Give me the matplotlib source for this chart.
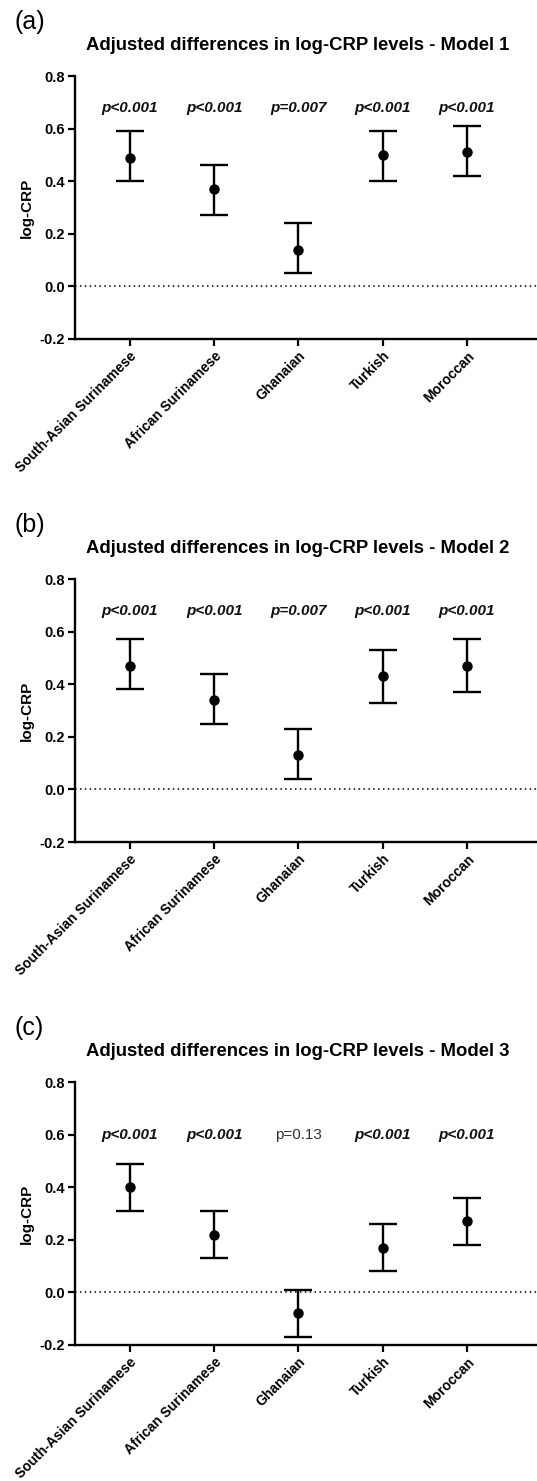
import matplotlib
matplotlib.use("Agg")
import matplotlib.pyplot as plt
import numpy as np

plt.rcParams["font.family"] = ["Liberation Sans", "DejaVu Sans"]
plt.rcParams["axes.unicode_minus"] = False

groups = ["South-Asian Surinamese", "African Surinamese", "Ghanaian", "Turkish", "Moroccan"]

# adjusted differences (estimate, lower CI, upper CI) per model
m1_est = [0.49, 0.37, 0.14, 0.50, 0.51]
m1_lo = [0.40, 0.27, 0.05, 0.40, 0.42]
m1_hi = [0.59, 0.46, 0.24, 0.59, 0.61]
m1_p = ["p<0.001", "p<0.001", "p=0.007", "p<0.001", "p<0.001"]

m2_est = [0.47, 0.34, 0.13, 0.43, 0.47]
m2_lo = [0.38, 0.25, 0.04, 0.33, 0.37]
m2_hi = [0.57, 0.44, 0.23, 0.53, 0.57]
m2_p = ["p<0.001", "p<0.001", "p=0.007", "p<0.001", "p<0.001"]

m3_est = [0.40, 0.22, -0.08, 0.17, 0.27]
m3_lo = [0.31, 0.13, -0.17, 0.08, 0.18]
m3_hi = [0.49, 0.31, 0.01, 0.26, 0.36]
m3_p = ["p<0.001", "p<0.001", "p=0.13", "p<0.001", "p<0.001"]
m3_sig = [True, True, False, True, True]

yticks = [-0.2, 0.0, 0.2, 0.4, 0.6, 0.8]
ytick_labels = ["-0.2", "0.0", "0.2", "0.4", "0.6", "0.8"]

W, H = 537, 1481
fig = plt.figure(figsize=(W / 100, H / 100), dpi=100)


def panel(top_px, letter, title, est, lo, hi, plabels, p_y, sig=None):
    bottom_px = top_px + 263
    ax = fig.add_axes([75 / W, 1 - bottom_px / H, 1 - 75 / W, 263 / H])
    x = np.arange(len(groups))
    est = np.asarray(est)
    yerr = [est - np.asarray(lo), np.asarray(hi) - est]
    ax.errorbar(x, est, yerr=yerr, fmt="o", color="black", ms=6.5,
                elinewidth=1.7, capsize=10, capthick=1.7, zorder=3)
    ax.axhline(0, color="black", lw=1.1, ls=(0, (1, 2.2)), zorder=1)
    ax.set_xlim(-0.65, 4.83)
    ax.set_ylim(-0.2, 0.8)
    ax.set_yticks(yticks)
    ax.set_yticklabels(ytick_labels, fontsize=10.5, fontweight="bold")
    ax.set_xticks(x)
    ax.set_xticklabels(groups, rotation=45, ha="right", va="top",
                       rotation_mode="anchor", fontsize=10, fontweight="bold")
    ax.tick_params(length=5, width=1.6, pad=2, color="black")
    for s in ("top", "right"):
        ax.spines[s].set_visible(False)
    for s in ("left", "bottom"):
        ax.spines[s].set_linewidth(1.7)
    ax.set_ylabel("log-CRP", fontsize=11, fontweight="bold", labelpad=4)
    for i, lab in enumerate(plabels):
        bold = True if sig is None else sig[i]
        ax.text(i, p_y, lab, ha="center", va="center", fontsize=11,
                fontweight="bold" if bold else "normal",
                fontstyle="italic" if bold else "normal",
                color="#111111" if bold else "#333333")
    fig.text(15 / W, 1 - (top_px - 54) / H, letter, fontsize=18,
             ha="left", va="center")
    fig.text(298 / W, 1 - (top_px - 31) / H, title, fontsize=13.3,
             fontweight="bold", ha="center", va="center")
    return ax


panel(76, "(a)", "Adjusted differences in log-CRP levels - Model 1",
      m1_est, m1_lo, m1_hi, m1_p, 0.68)
panel(579, "(b)", "Adjusted differences in log-CRP levels - Model 2",
      m2_est, m2_lo, m2_hi, m2_p, 0.68)
panel(1082, "(c)", "Adjusted differences in log-CRP levels - Model 3",
      m3_est, m3_lo, m3_hi, m3_p, 0.60, sig=m3_sig)

fig.savefig("out.png", dpi=100)
